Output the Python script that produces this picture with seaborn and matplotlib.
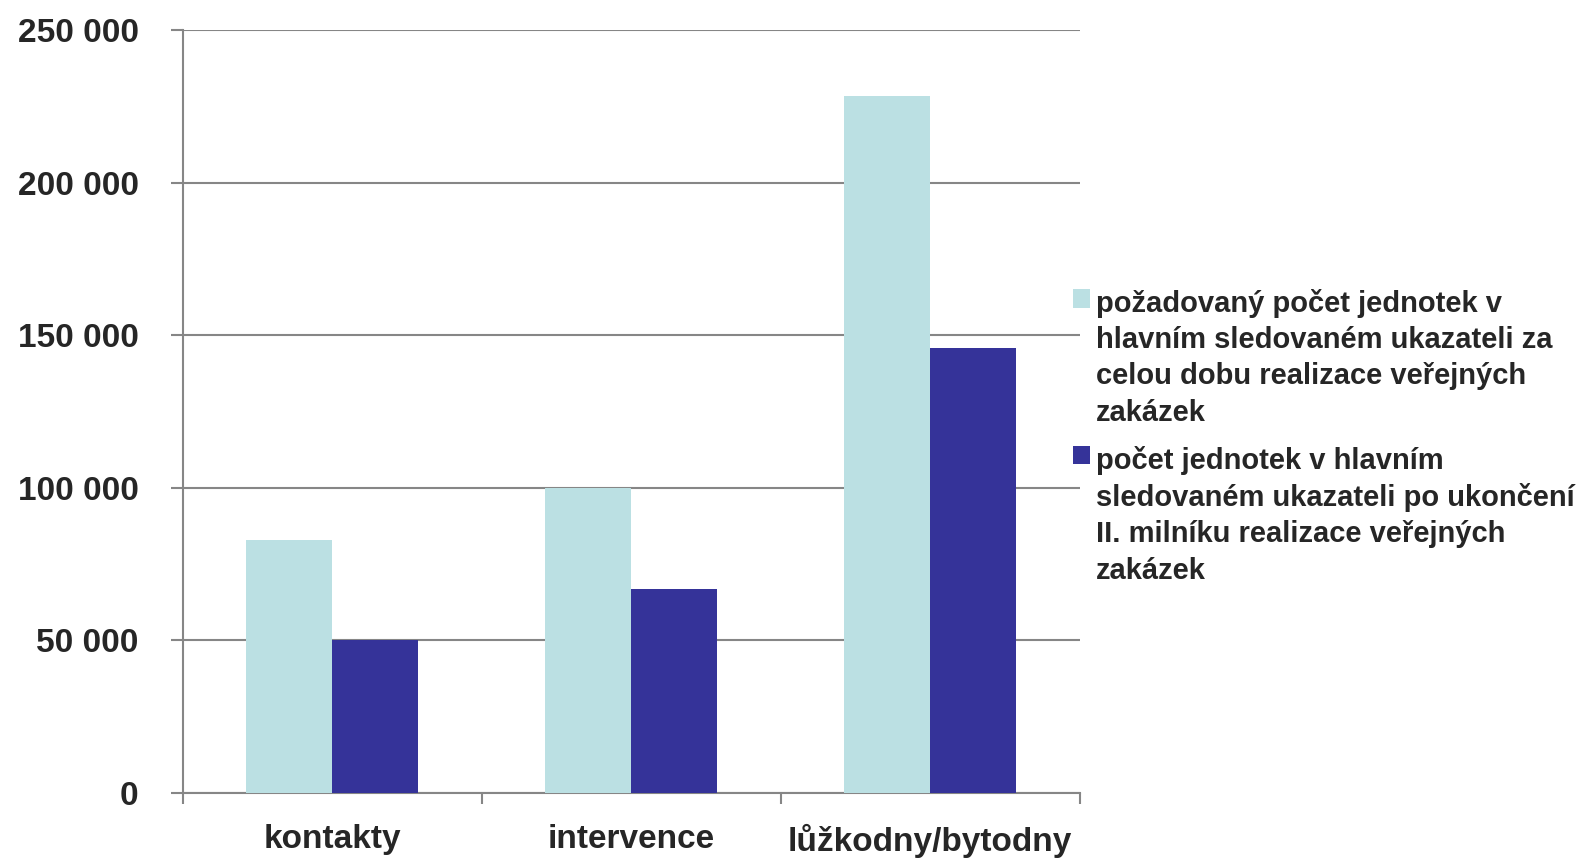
import pandas as pd
import matplotlib.pyplot as plt
import seaborn as sns
from matplotlib.ticker import FuncFormatter, FixedLocator

categories = ['kontakty', 'intervence', 'lůžkodny/bytodny']
series = ['požadovaný počet jednotek v\nhlavním sledovaném ukazateli za\ncelou dobu realizace veřejných\nzakázek',
          'počet jednotek v hlavním\nsledovaném ukazateli po ukončení\nII. milníku realizace veřejných\nzakázek']
required = [82800, 100000, 228500]
milestone = [50000, 67000, 146000]
colors = ['#BBE0E3', '#353399']

df = pd.DataFrame({
    'kategorie': categories * 2,
    'serie': [series[0]] * 3 + [series[1]] * 3,
    'hodnota': required + milestone,
})

sns.set_style('white')
plt.rcParams['font.family'] = ['Liberation Sans', 'DejaVu Sans']

fig = plt.figure(figsize=(15.9, 8.58), dpi=100)
ax = fig.add_axes([0.1148, 0.0758, 0.5642, 0.8888])

sns.barplot(data=df, x='kategorie', y='hodnota', hue='serie', palette=colors,
            width=0.576, gap=0, saturation=1, linewidth=0, ax=ax, zorder=3)

gray = '#868686'
ax.set_ylim(0, 250000)
ax.set_xlim(-0.5, 2.5)
ax.set_yticks(range(0, 250001, 50000))
ax.yaxis.set_major_formatter(FuncFormatter(lambda v, p: f'{int(v):,}'.replace(',', ' ')))
ax.grid(axis='y', color=gray, linewidth=1.5, zorder=0)
ax.set_axisbelow(True)
for s in ['top', 'right']:
    ax.spines[s].set_visible(False)
for s in ['left', 'bottom']:
    ax.spines[s].set_color(gray)
    ax.spines[s].set_linewidth(1.5)

ax.tick_params(axis='y', left=True, length=8.6, width=1.5, color=gray, pad=23,
               labelsize=24)
ax.tick_params(axis='x', which='major', length=0, pad=22, labelsize=24)
ax.xaxis.set_minor_locator(FixedLocator([-0.5, 0.5, 1.5, 2.5]))
ax.tick_params(axis='x', which='minor', bottom=True, length=8, width=1.5, color=gray)
for lab in ax.get_xticklabels() + ax.get_yticklabels():
    lab.set_fontweight('bold')
ax.set_xlabel('')
ax.set_ylabel('')

handles, labels = ax.get_legend_handles_labels()
leg = ax.legend(handles, labels, loc='upper left', bbox_to_anchor=(0.6748, 0.663),
                bbox_transform=fig.transFigure, frameon=False, borderpad=0,
                prop={'size': 21, 'weight': 'bold'}, handlelength=0.6, handleheight=0.6,
                handletextpad=0.2, labelspacing=0.66, borderaxespad=0)
for t in leg.get_texts():
    t.set_linespacing(1.37)
for col in leg._legend_handle_box.get_children():
    for row in col.get_children():
        row.align = 'top'

fig.savefig('out.png', dpi=100)
